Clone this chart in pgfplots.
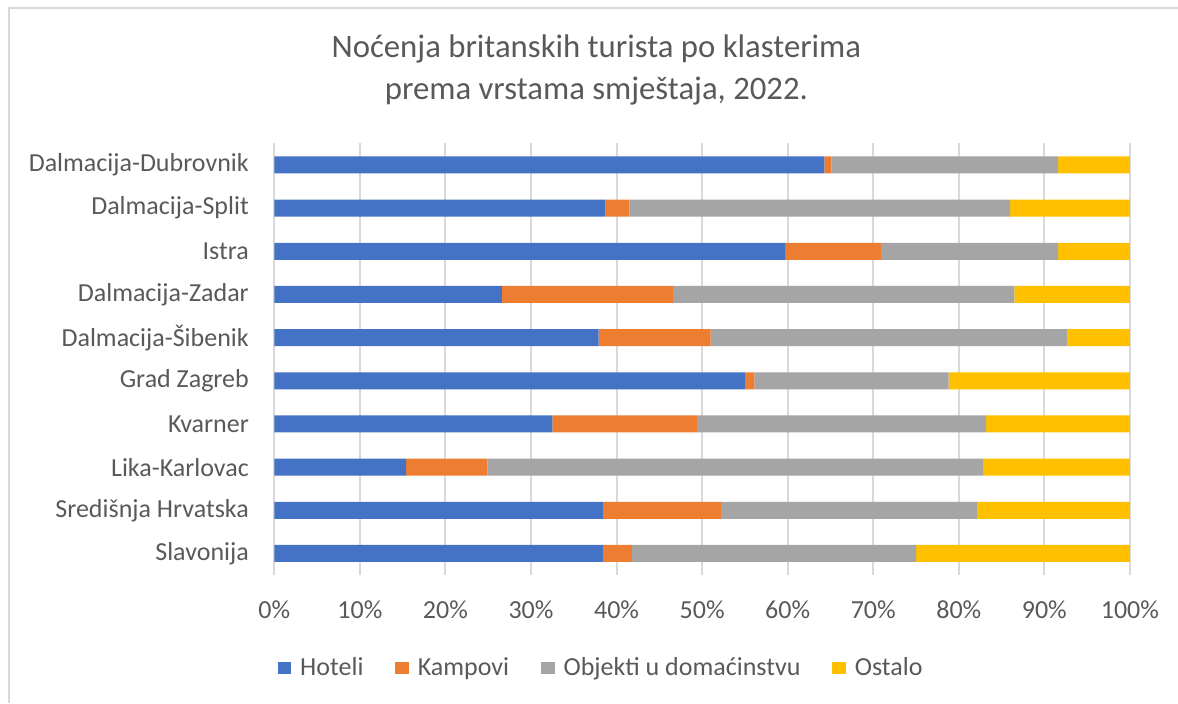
\documentclass[border=0pt]{standalone}
\usepackage{pgfplots}
\pgfplotsset{compat=1.18}
\usepackage{pgfplotstable}
\usepackage{fontspec}
\setmainfont{Carlito}
\definecolor{cblue}{HTML}{4472C4}
\definecolor{corange}{HTML}{ED7D31}
\definecolor{cgrey}{HTML}{A5A5A5}
\definecolor{cyellow}{HTML}{FFC000}
\definecolor{gridc}{HTML}{D9D9D9}
\definecolor{txt}{HTML}{595959}

\pgfplotstableread{
y H K O S
0 38.4 3.4 33.2 25.0
1 38.4 13.8 30.0 17.8
2 15.4 9.5 58.0 17.1
3 32.5 16.9 33.8 16.8
4 55.0 1.1 22.7 21.2
5 37.9 13.1 41.7 7.3
6 26.6 20.0 39.9 13.5
7 59.7 11.2 20.7 8.4
8 38.7 2.8 44.5 14.0
9 64.3 0.8 26.5 8.4
}\datatable

\begin{document}
\begin{tikzpicture}
\useasboundingbox (0,0) rectangle (29.45cm,17.575cm);
\draw[gridc, line width=0.05cm] (0.225cm,0) -- (0.225cm,17.375cm) -- (29.45cm,17.375cm);
\node[align=center, text=txt, font=\fontsize{23.3}{30.5}\selectfont] at (14.91cm,15.825cm)
  {Noćenja britanskih turista po klasterima\\prema vrstama smještaja, 2022.};
\begin{axis}[
  at={(6.8575cm,3.2cm)}, anchor=south west,
  scale only axis, width=21.39cm, height=10.79cm,
  xbar stacked, bar width=0.425cm,
  xmin=0, xmax=100, ymin=-0.5, ymax=9.5,
  xtick={0,10,...,100},
  xticklabel={\pgfmathprintnumber{\tick}\%},
  ytick={0,...,9},
  yticklabels={Slavonija,Središnja Hrvatska,Lika-Karlovac,Kvarner,Grad Zagreb,Dalmacija-Šibenik,Dalmacija-Zadar,Istra,Dalmacija-Split,Dalmacija-Dubrovnik},
  /pgf/number format/assume math mode=true,
  axis line style={draw=none},
  major tick style={draw=none},
  xmajorgrids, major grid style={gridc, line width=0.05cm},
  ticklabel style={text=txt, font=\fontsize{18.5}{22}\selectfont},
  yticklabel style={anchor=east, inner sep=0pt, xshift=-0.63cm},
  xticklabel style={anchor=center, inner sep=0pt, yshift=-0.875cm},
  legend columns=4,
  legend style={at={(0.3832,-0.2154)}, anchor=center, draw=none, fill=none,
    font=\fontsize{18.5}{22}\selectfont, text=txt,
    /tikz/every even column/.append style={column sep=0.7cm},
    nodes={inner xsep=0.1cm}},
  legend image code/.code={\fill[#1] (0cm,-0.16cm) rectangle (0.34cm,0.16cm);\path (0.46cm,0cm);},
]
\addplot[fill=cblue, draw=none] table[x=H, y=y] {\datatable};
\addplot[fill=corange, draw=none] table[x=K, y=y] {\datatable};
\addplot[fill=cgrey, draw=none] table[x=O, y=y] {\datatable};
\addplot[fill=cyellow, draw=none] table[x=S, y=y] {\datatable};
\legend{Hoteli, Kampovi, Objekti u domaćinstvu, Ostalo}
\end{axis}
\end{tikzpicture}
\end{document}
